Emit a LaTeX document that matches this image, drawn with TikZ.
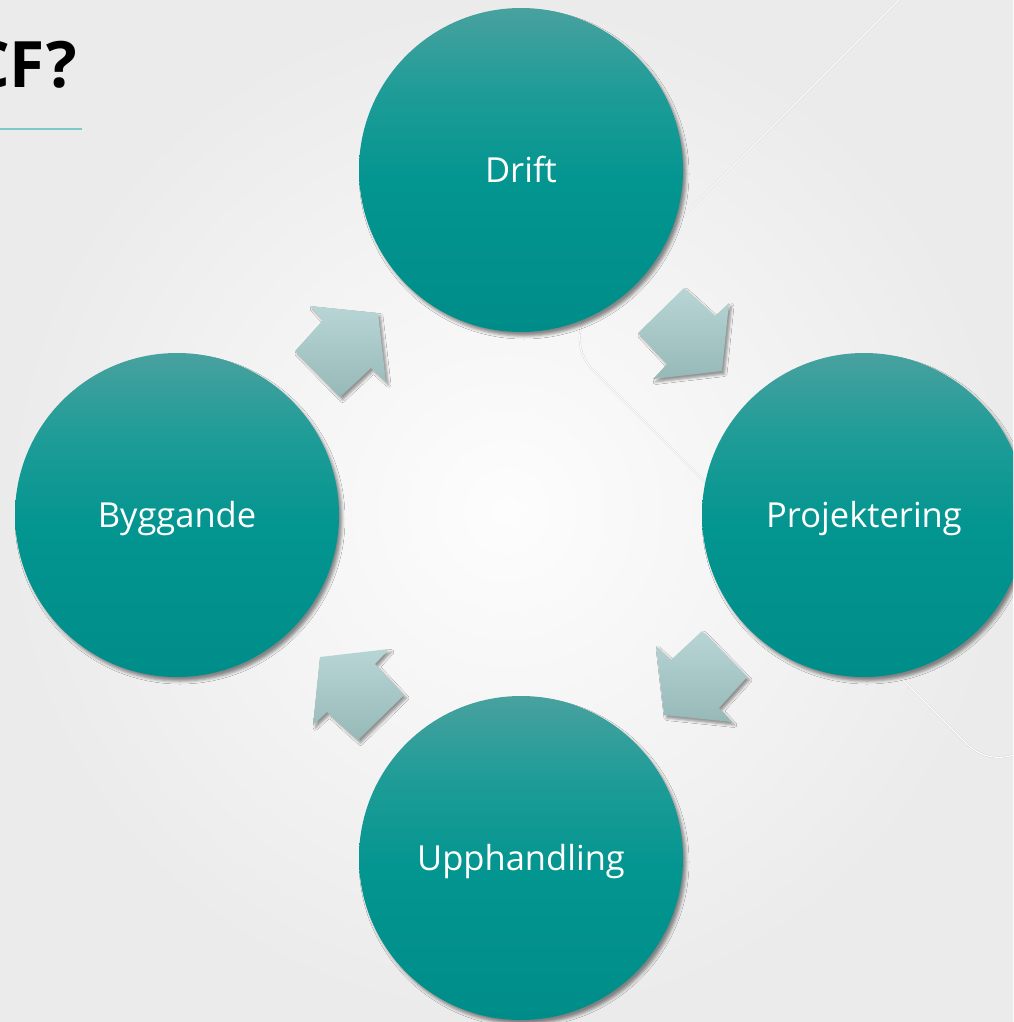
\documentclass[tikz,border=0pt]{standalone}
\usepackage{fontspec}
\setmainfont{Open Sans}
\usetikzlibrary{shadows.blur}
\definecolor{bgin}{HTML}{FDFDFD}
\definecolor{bgout}{HTML}{EBEBEB}
\definecolor{tealtop}{HTML}{48A19F}
\definecolor{tealup}{HTML}{1E9C97}
\definecolor{tealmid}{HTML}{039590}
\definecolor{tealbot}{HTML}{008D89}
\definecolor{arrtop}{HTML}{B8D5D5}
\definecolor{arrbot}{HTML}{96B9B8}
\definecolor{titlerule}{HTML}{7CC9C6}
\definecolor{decoline}{HTML}{CDCDCD}
\pgfdeclareverticalshading{circshade}{100bp}{color(0bp)=(tealbot); color(25bp)=(tealbot); color(48bp)=(tealmid); color(62bp)=(tealup); color(75bp)=(tealtop); color(100bp)=(tealtop)}
\begin{document}
\begin{tikzpicture}[x=1pt,y=-1pt,
  stage/.style={circle, minimum size=324pt, inner sep=0pt, shade, shading=circshade,
    text=white, font=\fontsize{34.5}{40}\selectfont, text height=24.5pt, text depth=0pt,
    blur shadow={shadow xshift=3pt, shadow yshift=-4pt, shadow blur radius=3pt, shadow opacity=45}},
  cyclearrow/.style={top color=arrtop, bottom color=arrbot,
    blur shadow={shadow xshift=2.5pt, shadow yshift=-3pt, shadow blur radius=2.5pt, shadow opacity=40}},
  deco/.style={draw=decoline, line width=0.35pt, double=white, double distance=1.1pt, rounded corners=45pt}]
\useasboundingbox (0,0) rectangle (1013,1022);
\clip (0,0) rectangle (1013,1022);
\shade[inner color=bgin, outer color=bgout] (0,0) rectangle (1013,1022);
% decorative background line
\draw[deco] (930,-31) -- (561,338) -- (999,776) -- (1050,725);
% title
\node[anchor=base east, inner sep=0pt, font=\fontsize{64}{70}\selectfont\bfseries] (title) at (77,88) {CF?};
\draw[titlerule, line width=2.2pt] (0,129) -- (82,129);
% arrows
\path[cyclearrow] (684,288) -- (715,316) -- (729,303) -- (722,371) -- (653,379) -- (667,364) -- (638,333) -- cycle;
\path[cyclearrow] (747,677) -- (719,708) -- (732,722) -- (664,715) -- (656,646) -- (671,660) -- (702,631) -- cycle;
\path[cyclearrow] (358,740) -- (327,712) -- (313,725) -- (320,657) -- (389,649) -- (375,664) -- (404,695) -- cycle;
\path[cyclearrow] (295,351) -- (323,320) -- (310,306) -- (378,313) -- (386,382) -- (371,368) -- (340,397) -- cycle;
% stages
\node[stage] (drift) at (521,170) {Drift};
\node[stage] (proj) at (864,515) {Projektering};
\node[stage] (upph) at (521,858) {Upphandling};
\node[stage] (bygg) at (177,515) {Byggande};
\end{tikzpicture}
\end{document}
